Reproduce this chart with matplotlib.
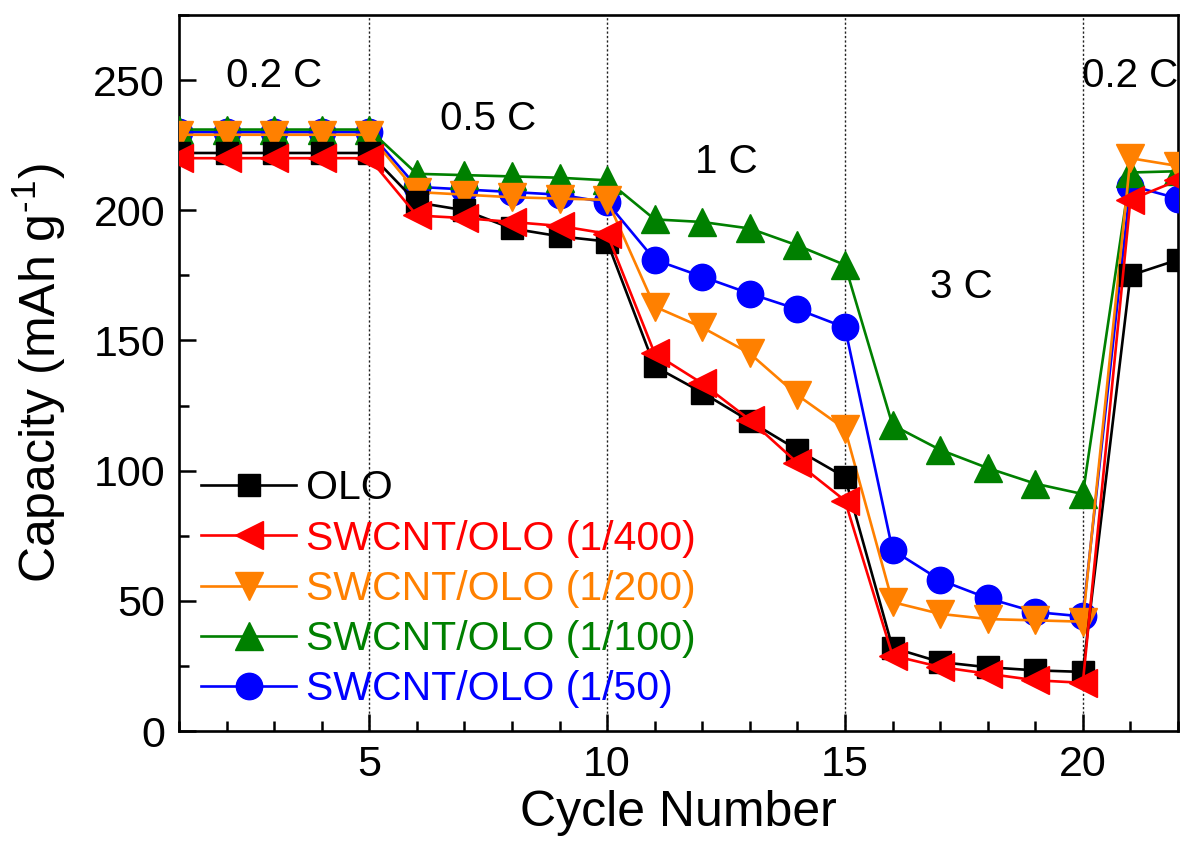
import matplotlib
matplotlib.use("Agg")
import matplotlib.pyplot as plt
from matplotlib.ticker import MultipleLocator

plt.rcParams["font.family"] = ["Liberation Sans", "DejaVu Sans"]
plt.rcParams["mathtext.fontset"] = "custom"
plt.rcParams["mathtext.rm"] = "Liberation Sans"
plt.rcParams["mathtext.default"] = "regular"

cycles = list(range(1, 23))

olo = [222, 222, 222, 222, 222, 203, 200, 193, 190, 188,
       140, 130, 119, 108, 97.5, 32, 26.5, 24.5, 23.3, 22.7, 175, 181]
swcnt_400 = [220, 220, 220, 220, 220, 198, 197, 195.5, 194, 191,
             145, 133.5, 119.5, 103, 88.5, 29, 24.6, 22, 19.5, 18.5, 204, 211.5]
swcnt_200 = [229, 229, 229, 229, 229, 207, 206, 205, 204.5, 204,
             163, 155, 145, 129, 116, 49.5, 45, 43, 42.5, 42, 220, 217]
swcnt_100 = [231, 231, 231, 231, 231, 214, 213.5, 213, 212.5, 211.5,
             196.5, 195.5, 193, 186.5, 179, 117.5, 108, 101, 95, 91, 214.5, 215]
swcnt_50 = [230, 230, 230, 230, 230, 209, 208, 207, 206, 203,
            181, 174.5, 168, 162, 155, 69.5, 58, 51, 45.7, 44, 209.5, 204.5]

rate_labels = ["0.2 C", "0.5 C", "1 C", "3 C", "0.2 C"]
rate_x = [3.0, 7.5, 12.5, 17.45, 21.0]
rate_y = [251.5, 235, 218.5, 170.5, 251.5]
boundaries = [5, 10, 15, 20]

fig = plt.figure(figsize=(11.82, 8.52), dpi=100)
ax = fig.add_axes([0.1514, 0.142, 0.8452, 0.8404])

for b in boundaries:
    ax.axvline(b, color="#222222", lw=1.0, ls=(0, (1.6, 1.6)), zorder=1)

lw = 1.9
# drawing order chosen so overlaps look like the original
h50, = ax.plot(cycles, swcnt_50, "-o", color="#0000ff", ms=19, lw=lw, label="SWCNT/OLO (1/50)", zorder=3)
h100, = ax.plot(cycles, swcnt_100, "-^", color="#008000", ms=20, lw=lw, label="SWCNT/OLO (1/100)", zorder=4)
h200, = ax.plot(cycles, swcnt_200, "-v", color="#ff8000", ms=20, lw=lw, label="SWCNT/OLO (1/200)", zorder=5)
holo, = ax.plot(cycles, olo, "-s", color="black", ms=16, lw=lw, label="OLO", zorder=6)
h400, = ax.plot(cycles, swcnt_400, "-<", color="#ff0000", ms=20, lw=lw, label="SWCNT/OLO (1/400)", zorder=7)

for lab, x, y in zip(rate_labels, rate_x, rate_y):
    ax.text(x, y, lab, fontsize=29, ha="center", va="center", zorder=8)

ax.set_xlim(1, 22)
ax.set_ylim(0, 275)
ax.xaxis.set_major_locator(MultipleLocator(5))
ax.xaxis.set_minor_locator(MultipleLocator(1))
ax.yaxis.set_major_locator(MultipleLocator(50))
ax.yaxis.set_minor_locator(MultipleLocator(25))
ax.tick_params(which="both", direction="in", width=1.8, labelsize=31)
ax.tick_params(which="major", length=12, pad=10)
ax.tick_params(which="minor", length=7)
for s in ax.spines.values():
    s.set_linewidth(1.9)

ax.set_xlabel("Cycle Number", fontsize=36, labelpad=4)
ax.set_ylabel("Capacity (mAh g$^{\u2010}$$^{1}$)", fontsize=36, labelpad=18)

leg = ax.legend(handles=[holo, h400, h200, h100, h50], loc="lower left",
                bbox_to_anchor=(0.0, 0.0), frameon=False, fontsize=29.5,
                handlelength=2.3, handletextpad=0.25, labelspacing=0.3,
                borderaxespad=0.15)
for t, h in zip(leg.get_texts(), [holo, h400, h200, h100, h50]):
    t.set_color(h.get_color())

fig.savefig("out.png", dpi=100)
